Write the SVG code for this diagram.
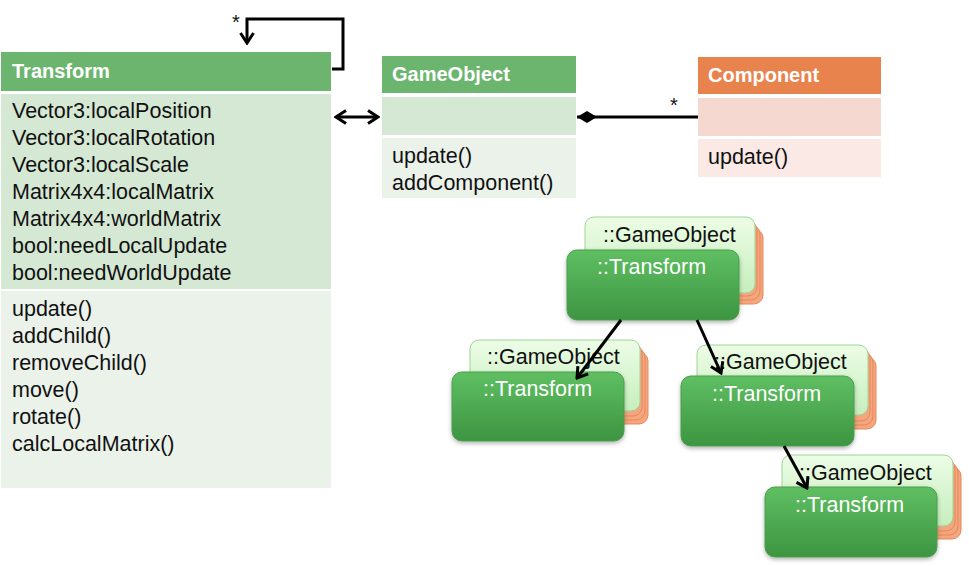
<svg xmlns="http://www.w3.org/2000/svg" width="969" height="566" viewBox="0 0 969 566">
<style>
.t{font-family:"Liberation Sans",Arial,sans-serif;font-size:21.5px;fill:#111}
.h{font-family:"Liberation Sans",Arial,sans-serif;font-size:20px;font-weight:bold;fill:#fff}
.on{font-family:"Liberation Sans",Arial,sans-serif;font-size:21.5px;fill:#111}
.ot{font-family:"Liberation Sans",Arial,sans-serif;font-size:21.5px;fill:#fff}
.gh{fill:#6bb56e}
.ga{fill:#d5e8d4}
.gm{fill:#ebf2ea}
.ln{stroke:#000;stroke-width:3;fill:none}
.orng{fill:#f4a67e;stroke:#e7875a;stroke-width:1}
.gob{fill:url(#gGo);stroke:#9fd394;stroke-width:1}
.tr{fill:url(#gTr);stroke:#4a9d4d;stroke-width:1}
</style>
<defs>
<linearGradient id="gGo" x1="0" y1="0" x2="0" y2="1"><stop offset="0" stop-color="#ecfde6"/><stop offset="1" stop-color="#c6eebd"/></linearGradient>
<linearGradient id="gTr" x1="0" y1="0" x2="0" y2="1"><stop offset="0" stop-color="#5fbf62"/><stop offset="1" stop-color="#3d9541"/></linearGradient>
<marker id="open" viewBox="0 0 14 16" refX="12" refY="8" markerWidth="14" markerHeight="16" markerUnits="userSpaceOnUse" orient="auto-start-reverse"><path d="M2,1.5 L12,8 L2,14.5" fill="none" stroke="#000" stroke-width="3"/></marker>
<marker id="dia" viewBox="0 0 20 12" refX="0" refY="6" markerWidth="20" markerHeight="12" markerUnits="userSpaceOnUse" orient="auto"><path d="M0,6 L10,0 L20,6 L10,12 Z" fill="#000"/></marker>
<filter id="sh" x="-10%" y="-10%" width="130%" height="140%"><feDropShadow dx="0" dy="2" stdDeviation="2" flood-color="#000" flood-opacity="0.3"/></filter>
</defs>

<g id="Transform">
<rect class="gh" x="1" y="52" width="330" height="39"/>
<rect class="ga" x="1" y="94" width="330" height="195"/>
<rect class="gm" x="1" y="291" width="330" height="197"/>
<text class="h" x="12" y="78">Transform</text>
<text class="t" x="12" y="118">Vector3:localPosition</text>
<text class="t" x="12" y="145">Vector3:localRotation</text>
<text class="t" x="12" y="172">Vector3:localScale</text>
<text class="t" x="12" y="199">Matrix4x4:localMatrix</text>
<text class="t" x="12" y="226">Matrix4x4:worldMatrix</text>
<text class="t" x="12" y="253">bool:needLocalUpdate</text>
<text class="t" x="12" y="280">bool:needWorldUpdate</text>
<text class="t" x="12" y="316">update()</text>
<text class="t" x="12" y="343">addChild()</text>
<text class="t" x="12" y="370">removeChild()</text>
<text class="t" x="12" y="397">move()</text>
<text class="t" x="12" y="424">rotate()</text>
<text class="t" x="12" y="451">calcLocalMatrix()</text>
</g>

<g id="GameObject">
<rect class="gh" x="382" y="56" width="194" height="37"/>
<rect class="ga" x="382" y="97" width="194" height="38"/>
<rect class="gm" x="382" y="138" width="194" height="60"/>
<text class="h" x="392" y="81">GameObject</text>
<text class="t" x="392" y="163">update()</text>
<text class="t" x="392" y="190">addComponent()</text>
</g>

<g id="Component">
<rect x="698" y="57" width="183" height="37" fill="#e8834e"/>
<rect x="698" y="98" width="183" height="38" fill="#f5d9d0"/>
<rect x="698" y="139" width="183" height="38" fill="#fae9e5"/>
<text class="h" x="708" y="82">Component</text>
<text class="t" x="708" y="164">update()</text>
</g>

<g id="obj1">
<rect class="orng" x="593" y="229" width="170" height="75" rx="9"/>
<rect class="orng" x="590" y="225" width="170" height="75" rx="9"/>
<rect class="orng" x="587" y="221" width="170" height="75" rx="9"/>
<rect class="gob" x="585" y="217" width="170" height="76" rx="9"/>
<text class="on" x="603" y="242">::GameObject</text>
<rect class="tr" x="567" y="250" width="172" height="70" rx="10" filter="url(#sh)"/>
<text class="ot" x="597" y="274">::Transform</text>
</g>

<g id="obj2">
<rect class="orng" x="478" y="352" width="170" height="72" rx="9"/>
<rect class="orng" x="475" y="348" width="170" height="72" rx="9"/>
<rect class="orng" x="472" y="344" width="170" height="72" rx="9"/>
<rect class="gob" x="470" y="340" width="170" height="71" rx="9"/>
<text class="on" x="487" y="364">::GameObject</text>
<rect class="tr" x="452" y="372" width="172" height="69" rx="10" filter="url(#sh)"/>
<text class="ot" x="483" y="396">::Transform</text>
</g>

<g id="obj3">
<rect class="orng" x="705" y="357" width="171" height="72" rx="9"/>
<rect class="orng" x="702" y="353" width="171" height="72" rx="9"/>
<rect class="orng" x="699" y="349" width="171" height="72" rx="9"/>
<rect class="gob" x="697" y="345" width="171" height="70" rx="9"/>
<text class="on" x="714" y="369">::GameObject</text>
<rect class="tr" x="681" y="376" width="173" height="70" rx="10" filter="url(#sh)"/>
<text class="ot" x="712" y="401">::Transform</text>
</g>

<g id="obj4">
<rect class="orng" x="790" y="467" width="171" height="72" rx="9"/>
<rect class="orng" x="787" y="463" width="171" height="72" rx="9"/>
<rect class="orng" x="784" y="459" width="171" height="72" rx="9"/>
<rect class="gob" x="782" y="455" width="171" height="71" rx="9"/>
<text class="on" x="799" y="480">::GameObject</text>
<rect class="tr" x="765" y="487" width="172" height="70" rx="10" filter="url(#sh)"/>
<text class="ot" x="795" y="512">::Transform</text>
</g>

<g id="connectors">
<polyline class="ln" points="332,69 343,69 343,19 247,19 247,43" marker-end="url(#open)"/>
<text class="t" x="232" y="29" style="font-size:20px">*</text>
<line class="ln" x1="336" y1="117" x2="378" y2="117" marker-start="url(#open)" marker-end="url(#open)"/>
<line class="ln" x1="577" y1="117" x2="698" y2="117" marker-start="url(#dia)"/>
<text class="t" x="670" y="112" style="font-size:20px">*</text>
<line class="ln" x1="621" y1="320" x2="577" y2="378" marker-end="url(#open)"/>
<line class="ln" x1="697" y1="320" x2="721" y2="373" marker-end="url(#open)"/>
<line class="ln" x1="784" y1="446" x2="807" y2="488" marker-end="url(#open)"/>
</g>
</svg>
